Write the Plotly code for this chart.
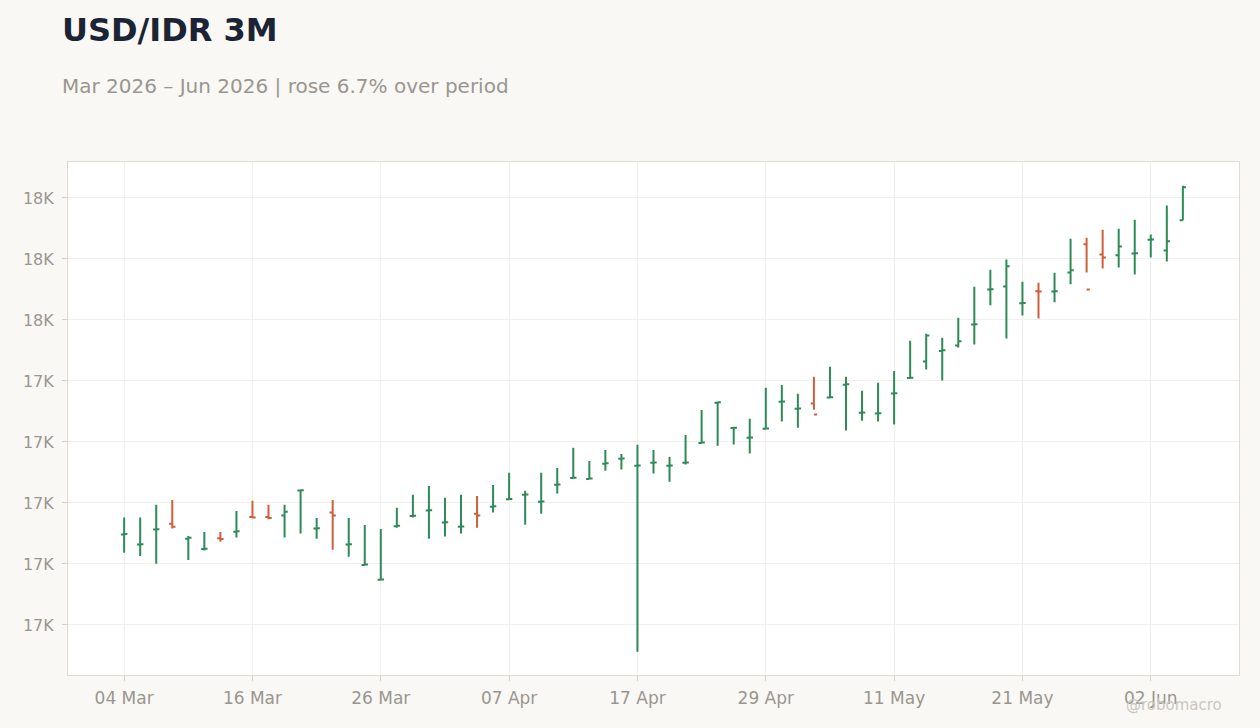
import plotly.graph_objects as go
import pandas as pd

# business days, 04 Mar 2026 - 04 Jun 2026
dates = pd.bdate_range("2026-03-04", "2026-06-04")
date_str = [d.strftime("%Y-%m-%d") for d in dates]

open_px = [
    16897, 16864, 16913, 16932, 16883, 16849, 16884, 16906, 16954, 16954,
    16959, 17041, 16916, 16969, 16864, 16797, 16748, 16924, 16957, 16975,
    16936, 16922, 16965, 16988, 17012, 17027, 17004, 17060, 17082, 17079,
    17129, 17145, 17122, 17132, 17122, 17132, 17197, 17329, 17246, 17214,
    17243, 17332, 17309, 17326, 17346, 17388, 17296, 17293, 17359, 17410,
    17464, 17498, 17516, 17585, 17700, 17710, 17655, 17694, 17693, 17756,
    17848, 17815, 17812, 17818, 17863, 17828, 17927,
]
high_px = [
    16952, 16952, 16994, 17010, 16892, 16905, 16905, 16974, 17007, 16994,
    16994, 17043, 16951, 17010, 16951, 16928, 16915, 16984, 17027, 17056,
    17017, 17027, 17023, 17059, 17099, 17040, 17099, 17115, 17181, 17138,
    17174, 17161, 17191, 17174, 17151, 17223, 17305, 17332, 17247, 17276,
    17378, 17387, 17358, 17414, 17447, 17414, 17368, 17394, 17433, 17532,
    17555, 17542, 17607, 17709, 17765, 17798, 17725, 17722, 17755, 17866,
    17870, 17896, 17899, 17929, 17880, 17975, 18040,
]
low_px = [
    16837, 16826, 16801, 16916, 16813, 16844, 16873, 16887, 16952, 16947,
    16887, 16900, 16883, 16847, 16824, 16796, 16747, 16919, 16952, 16883,
    16890, 16900, 16919, 16969, 17011, 16929, 16965, 17031, 17080, 17077,
    17106, 17110, 16512, 17097, 17070, 17126, 17195, 17188, 17192, 17162,
    17241, 17267, 17247, 17306, 17345, 17238, 17270, 17267, 17257, 17408,
    17438, 17402, 17510, 17520, 17648, 17539, 17615, 17605, 17658, 17717,
    17756, 17769, 17772, 17749, 17805, 17792, 17927,
]
close_px = [
    16898, 16865, 16914, 16922, 16886, 16850, 16882, 16907, 16952, 16951,
    16971, 17042, 16917, 16959, 16865, 16798, 16749, 16925, 16958, 16976,
    16937, 16923, 16959, 16989, 17013, 17028, 17005, 17061, 17083, 17080,
    17130, 17146, 17123, 17133, 17123, 17133, 17198, 17330, 17247, 17215,
    17244, 17333, 17310, 17290, 17347, 17389, 17297, 17294, 17360, 17411,
    17549, 17501, 17530, 17586, 17701, 17776, 17656, 17693, 17694, 17763,
    17700, 17805, 17841, 17819, 17864, 17858, 18035,
]

y_ticks = [16600, 16800, 17000, 17200, 17400, 17600, 17800, 18000]
y_labels = [f"{round(v / 1000)}K" for v in y_ticks]
x_ticks = date_str[::8]
x_labels = [d.strftime("%d %b") for d in dates[::8]]

GREEN = "#2e8b57"
RED = "#cf5f3c"
GRID = "#f1efec"
TEXT = "#9a968f"
FONT = "DejaVu Sans"

fig = go.Figure(go.Ohlc(
    x=date_str,
    open=open_px,
    high=high_px,
    low=low_px,
    close=close_px,
    tickwidth=0.2,
    increasing=dict(line=dict(color=GREEN, width=2)),
    decreasing=dict(line=dict(color=RED, width=2)),
    showlegend=False,
))

fig.update_layout(
    width=1260,
    height=728,
    paper_bgcolor="#f9f8f5",
    plot_bgcolor="#ffffff",
    margin=dict(l=68, r=21, t=162, b=53),
    font=dict(family=FONT, size=16, color=TEXT),
    annotations=[
        dict(text="USD/IDR 3M", xref="paper", yref="paper", x=-0.0068, y=1.257,
             xanchor="left", yanchor="middle", showarrow=False,
             font=dict(family=FONT, size=32, color="#1b2435", weight="bold")),
        dict(text="Mar 2026 \u2013 Jun 2026 | rose 6.7% over period",
             xref="paper", yref="paper", x=-0.0068, y=1.148,
             xanchor="left", yanchor="middle", showarrow=False,
             font=dict(family=FONT, size=20, color=TEXT)),
        dict(text="@robomacro", xref="paper", yref="paper", x=0.987, y=-0.0585,
             xanchor="right", yanchor="middle", showarrow=False,
             font=dict(family=FONT, size=15, color="#cbc7c0")),
    ],
)

fig.update_xaxes(
    type="category",
    range=[-3.5, len(date_str) - 0.5 + 3],
    tickvals=x_ticks,
    ticktext=x_labels,
    tickfont=dict(size=17),
    ticklabelstandoff=3,
    rangeslider_visible=False,
    showgrid=True, gridcolor=GRID, gridwidth=1,
    ticks="outside", ticklen=5, tickcolor="#d6d1c9",
    showline=True, linecolor="#e0dbd3", linewidth=1, mirror=True,
    zeroline=False,
)
fig.update_yaxes(
    range=[16436, 18118],
    tickvals=y_ticks,
    ticktext=y_labels,
    ticklabelstandoff=5,
    showgrid=True, gridcolor=GRID, gridwidth=1,
    ticks="outside", ticklen=5, tickcolor="#d6d1c9",
    showline=True, linecolor="#e0dbd3", linewidth=1, mirror=True,
    zeroline=False,
)

# drop the default page margin so the figure sits flush in the window
fig.write_html(
    "out.html",
    config={"displayModeBar": False},
    post_script="document.body.style.margin='0';document.body.style.overflow='hidden';",
)
